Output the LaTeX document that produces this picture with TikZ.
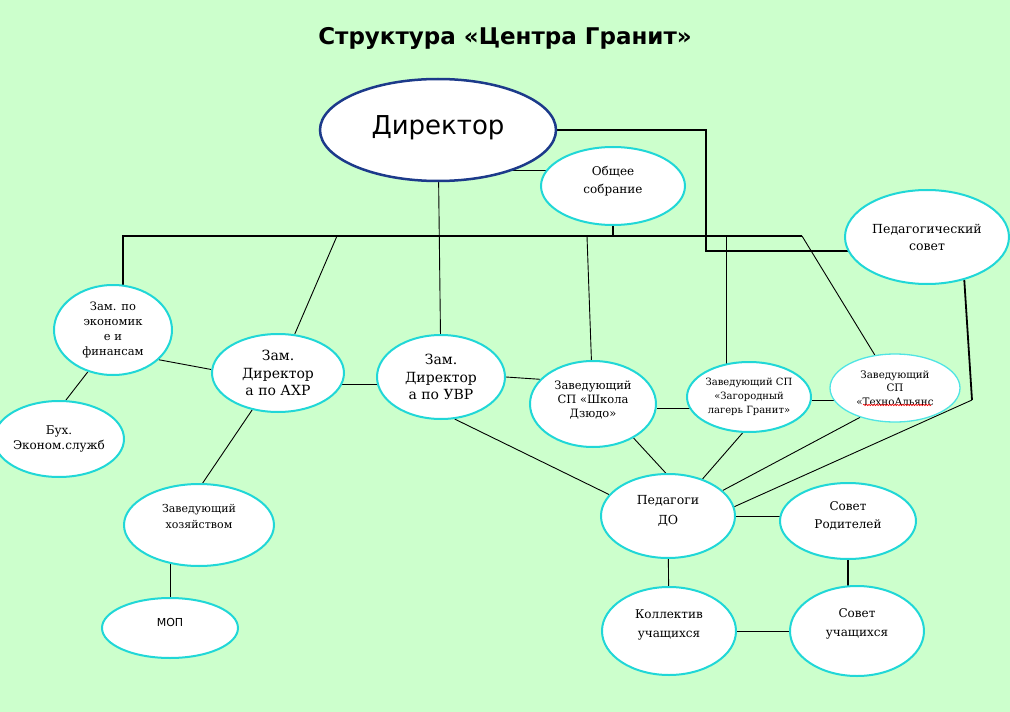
\documentclass[tikz,border=0pt]{standalone}
\usepackage{fontspec}
\setmainfont{DejaVu Serif}
\setsansfont{DejaVu Sans}
\usetikzlibrary{positioning, shapes.geometric, backgrounds, decorations.pathmorphing, calc}
\definecolor{bgcol}{RGB}{204,255,204}
\definecolor{rimcol}{RGB}{32,215,215}
\definecolor{dircol}{RGB}{28,58,138}
\definecolor{techcol}{RGB}{80,228,228}
\tikzset{main node/.style={ellipse, draw=rimcol, line width=2pt, fill=white, inner sep=0pt, align=center},
dims/.style 2 args={minimum width=#1pt, minimum height=#2pt},
fs/.style 2 args={font=\fontsize{#1}{#2}\selectfont},
lift/.style={text depth=#1pt},
thin link/.style={line width=0.9pt},
thick link/.style={line width=1.8pt},}

\begin{document}
\begin{tikzpicture}[x=1pt, y=1pt, on grid, thin link]
				\useasboundingbox (-438,130) rectangle (572,-582);
				% Grids
				\node[main node, draw=dircol, line width=2.5pt, dims={236}{102}, font=\sffamily\fontsize{26}{30}\selectfont, lift=10] (dir) {Директор};
				\node[font=\sffamily\bfseries\fontsize{23}{27}\selectfont] [above right = 92pt and 67pt of dir] (title) {Структура «Центра Гранит»};
				\node[main node, dims={144}{78}, fs={12}{18}, lift=13] [below right = 56pt and 175pt of dir] (sobr) {Общее\\собрание};
				\node[main node, dims={164}{94}, fs={12.5}{17}] [below right = 51pt and 314pt of sobr] (psov) {Педагогический\\совет};
				\node[main node, dims={128}{84}, fs={14}{17.5}] [below right = 247pt and 3pt of dir] (uvr) {Зам.\\Директор\\а по УВР};
				\node[main node, dims={132}{78}, fs={14}{17.5}] [above left = 4pt and 163pt of uvr] (ahr) {Зам.\\Директор\\а по АХР};
				\node[main node, dims={118}{90}, fs={11.5}{15}] [above left = 43pt and 165pt of ahr] (econ) {Зам. по\\экономик\\е и\\финансам};
				\node[main node, dims={118}{76}, fs={12}{15}] [below left = 109pt and 54pt of econ] (buh) {Бух.\\Эконом.служб};
				\node[main node, dims={150}{82}, fs={11}{16}, lift=17] [below left = 152pt and 79pt of ahr] (hoz) {Заведующий\\хозяйством};
				\node[main node, dims={136}{60}, font=\sffamily\fontsize{11}{13}\selectfont, lift=12] [below left = 103pt and 29pt of hoz] (mop) {МОП};
				\node[main node, dims={126}{86}, fs={11.5}{14}, lift=9] [below right = 27pt and 152pt of uvr] (judo) {Заведующий\\СП «Школа\\Дзюдо»};
				\node[main node, dims={124}{70}, fs={10}{14}] [above right = 7pt and 156pt of judo] (lager) {Заведующий СП\\«Загородный\\лагерь Гранит»};
				\node[main node, draw=techcol, line width=1.3pt, dims={130}{68}, fs={10.3}{13.5}] [above right = 9pt and 146pt of lager] (tech) {Заведующий\\СП\\«ТехноАльянс};
				\node[main node, dims={134}{84}, fs={12.5}{20}, lift=13] [below right = 112pt and 75pt of judo] (pdo) {Педагоги\\ДО};
				\node[main node, dims={136}{76}, fs={12}{18}, lift=11] [below right = 5pt and 180pt of pdo] (rod) {Совет\\Родителей};
				\node[main node, dims={134}{88}, fs={12}{19}, lift=14] [below right = 115pt and 1pt of pdo] (koll) {Коллектив\\учащихся};
				\node[main node, dims={134}{90}, fs={12}{19}, lift=16] [right = 188pt of koll] (uch) {Совет\\учащихся};
				% Joints
				\coordinate[below left = 106pt and 101pt of dir] (jAhr);
				\coordinate[below right = 106pt and 149pt of dir] (jJudo);
				\coordinate[below right = 106pt and 288pt of dir] (jLager);
				\coordinate[below right = 106pt and 364pt of dir] (busR);
				\coordinate[below right = 121pt and 268pt of dir] (kP);
				\coordinate[below right = 270pt and 534pt of dir] (kPs);
				\draw[red, line width=0.6pt, decorate, decoration={snake, amplitude=0.7pt, segment length=2.6pt}] ($(tech)+(-32,-17)$) -- ($(tech)+(36,-17)$);
				% Paths
				\begin{scope}[on background layer]
				\fill[bgcol] (-438,130) rectangle (572,-582);
				\draw[thick link] (econ.78) |- (busR);
				\draw[thick link] (sobr.south) -- (sobr.south |- busR);
				\draw[thick link] (dir.east) -| (kP) -- (kP -| psov);
				\draw[thick link] (psov.311) -- (kPs);
				\draw[thick link] (rod.south) -- (rod.south |- uch);
				\draw[line width=1.2pt] (sobr.167) -- (sobr.167 -| dir);
				\path[draw, thin link]
				(dir) edge (uvr)
				(jAhr) edge (ahr)
				(jJudo) edge (judo)
				(jLager) edge (jLager |- lager)
				(busR) edge (tech)
				(econ.-33) edge (ahr.177)
				(econ.239) edge (buh.80)
				(ahr.-10) edge (ahr.-10 -| uvr)
				(ahr.235) edge (hoz.85)
				(mop.north) edge (mop.north |- hoz)
				(uvr.east) edge (judo.155)
				(uvr.288) edge (pdo.160)
				(judo.-4) edge (judo.-4 -| lager)
				(judo.-40) edge (pdo.93)
				(lager.-3) edge (lager.-3 -| tech)
				(lager.260) edge (pdo.47)
				(tech.220) edge (pdo.25)
				(kPs) edge (pdo.8)
				(pdo) edge (pdo -| rod)
				(pdo) edge (koll)
				(koll) edge (uch);
				\end{scope}
			\end{tikzpicture}
\end{document}
